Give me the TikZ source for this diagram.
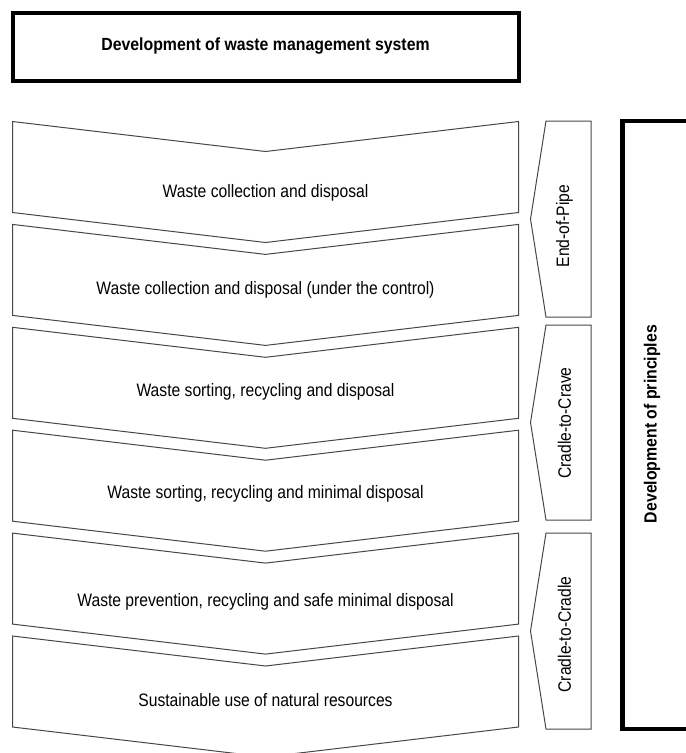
\documentclass[tikz,border=0pt]{standalone}
\usepackage{fontspec}
\setmainfont{Liberation Sans}
\newcommand{\narrowtxt}[1]{\scalebox{0.87}[1]{#1}}
\newcommand{\narrowbold}[1]{\scalebox{0.9}[1]{#1}}
\begin{document}
\begin{tikzpicture}[x=1pt,y=-1pt,
  chev/.style={draw=black!72,line width=1pt,fill=white,line join=miter},
  thickbox/.style={draw=black,line width=4pt},
  lab/.style={font=\fontsize{18}{20}\selectfont,inner sep=0pt},
  boldlab/.style={font=\bfseries\fontsize{17.6}{20}\selectfont,inner sep=0pt}]
\useasboundingbox (0,0) rectangle (686,753);
\clip (0,0) rectangle (686,753);
% title box
\draw[thickbox] (13,13) rectangle (518.5,80.5);
\node[boldlab] (title) at (265.5,45.5) {\narrowbold{Development of waste management system}};
% chevrons
\foreach \t/\ty/\txt [count=\i] in {
  121.5/192.5/{Waste collection and disposal},
  224.4/290/{Waste collection and disposal (under the control)},
  327.3/392/{Waste sorting, recycling and disposal},
  430.2/494/{Waste sorting, recycling and minimal disposal},
  533.1/601.5/{Waste prevention, recycling and safe minimal disposal},
  636/700/{Sustainable use of natural resources}} {
  \draw[chev] (12.5,\t) -- (265.5,\t+30) -- (518.5,\t) -- (518.5,\t+91)
     -- (265.5,\t+121) -- (12.5,\t+91) -- cycle;
  \node[lab] (c\i) at (265.5,\ty) {\narrowtxt{\txt}};
}
% principle tags
\foreach \a/\b/\ty/\txt [count=\i] in {
  121/317/226/End-of-Pipe,
  325/520/423/Cradle-to-Crave,
  533/729/634.5/Cradle-to-Cradle} {
  \draw[chev] (546,\a) -- (591,\a) -- (591,\b) -- (546,\b)
     -- (530.5,{(\a+\b)/2}) -- cycle;
  \node[lab,rotate=90] (s\i) at (564.5,\ty) {\narrowtxt{\txt}};
}
% development of principles box
\draw[draw=black,line width=4.5pt] (700,121) -- (622.5,121) -- (622.5,729) -- (700,729);
\node[boldlab,rotate=90] (dev) at (652,424) {\narrowbold{Development of principles}};
\end{tikzpicture}
\end{document}
